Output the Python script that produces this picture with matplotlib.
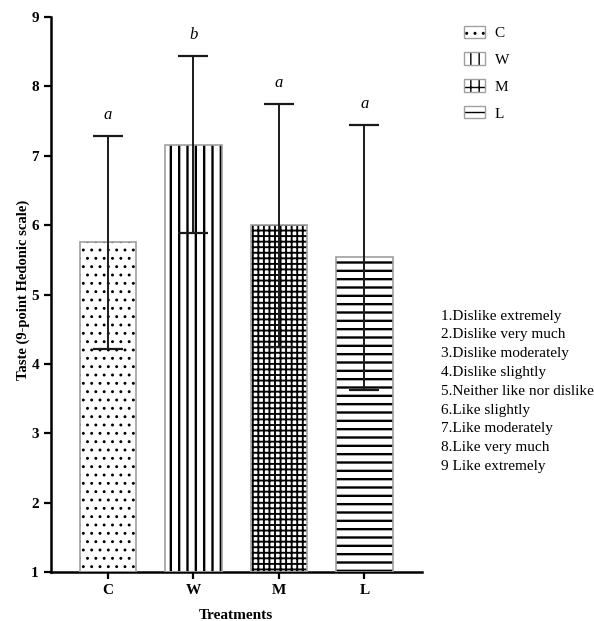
#!/usr/bin/env python3

import matplotlib
matplotlib.use("Agg")
import matplotlib.pyplot as plt
from matplotlib.patches import Patch
from matplotlib.legend_handler import HandlerTuple


treatments = ["C", "W", "M", "L"]
means = [5.75, 7.16, 6.00, 5.54]
sds = [1.54, 1.28, 1.75, 1.91]
letters = ["a", "b", "a", "a"]
hatches = ["..", "||", "+++", "--"]
hatch_widths = [0.9, 1.7, 1.35, 1.7]

scale_labels = [
    "1.Dislike extremely",
    "2.Dislike very much",
    "3.Dislike moderately",
    "4.Dislike slightly",
    "5.Neither like nor dislike",
    "6.Like slightly",
    "7.Like moderately",
    "8.Like very much",
    "9 Like extremely",
]

SERIF = ["Liberation Serif", "DejaVu Serif"]
BASE = 1
EDGE = "#a0a0a0"

plt.rcParams["font.family"] = SERIF


def hatched_patch(patch, width):
    if hasattr(patch, "set_hatch_linewidth"):
        patch.set_hatch_linewidth(width)


fig = plt.figure(figsize=(5.94, 6.21), dpi=100)
ax = fig.add_axes([0.0854, 0.0789, 0.6246, 0.8937])

x = list(range(len(treatments)))
heights = [m - BASE for m in means]

# white fill, black hatch layer, then grey outline on top
ax.bar(x, heights, bottom=BASE, width=0.66, color="white",
       linewidth=0, zorder=1)
for xi, h, hatch, hw in zip(x, heights, hatches, hatch_widths):
    with plt.rc_context({"hatch.linewidth": hw}):
        bars = ax.bar(xi, h, bottom=BASE, width=0.66, color="none",
                      edgecolor="black", linewidth=0, hatch=hatch, zorder=2)
        for p in bars:
            hatched_patch(p, hw)
ax.bar(x, heights, bottom=BASE, width=0.66, fill=False,
       edgecolor=EDGE, linewidth=1.2, zorder=3)

ax.errorbar(x, means, yerr=sds, fmt="none", ecolor="#1a1a1a",
            elinewidth=1.4, capsize=10.5, capthick=1.6, zorder=4)

for xi, m, s, letter in zip(x, means, sds, letters):
    ax.text(xi, m + s + 0.3, letter, ha="center", va="center",
            fontsize=12, style="italic")

ax.set_xlim(-0.67, 3.67)
ax.set_ylim(1, 9)
ax.set_yticks(range(1, 10))
ax.set_xticks(x)
ax.set_xticklabels(treatments)

for side in ["top", "right"]:
    ax.spines[side].set_visible(False)
for side in ["left", "bottom"]:
    ax.spines[side].set_linewidth(1.8)

ax.tick_params(axis="both", direction="out", length=5, width=1.6,
               labelsize=11)
for lab in ax.get_xticklabels() + ax.get_yticklabels():
    lab.set_fontweight("bold")

ax.set_ylabel("Taste (9-point Hedonic scale)", fontsize=10.5,
              fontweight="bold", labelpad=2)
ax.yaxis.set_label_coords(-0.055, 0.508)
ax.set_xlabel("Treatments", fontsize=11, fontweight="bold", labelpad=9)

handles = []
for hatch, hw in zip(["..", "||", "++", "--"], [0.9, 1.6, 1.6, 1.6]):
    with plt.rc_context({"hatch.linewidth": hw}):
        fill = Patch(facecolor="white", edgecolor="black", linewidth=0,
                     hatch=hatch)
    hatched_patch(fill, hw)
    edge = Patch(facecolor="none", edgecolor=EDGE, linewidth=1.0)
    handles.append((fill, edge))

fig.legend(handles, treatments, loc="upper left",
           bbox_to_anchor=(0.758, 0.981), frameon=False, fontsize=11,
           handlelength=1.4, handleheight=0.85, labelspacing=0.82,
           handletextpad=0.6,
           handler_map={tuple: HandlerTuple(ndivide=1)})

fig.text(0.742, 0.5016, "\n".join(scale_labels), ha="left", va="top",
         fontsize=11, linespacing=1.58)

fig.savefig("out.png", dpi=100)
